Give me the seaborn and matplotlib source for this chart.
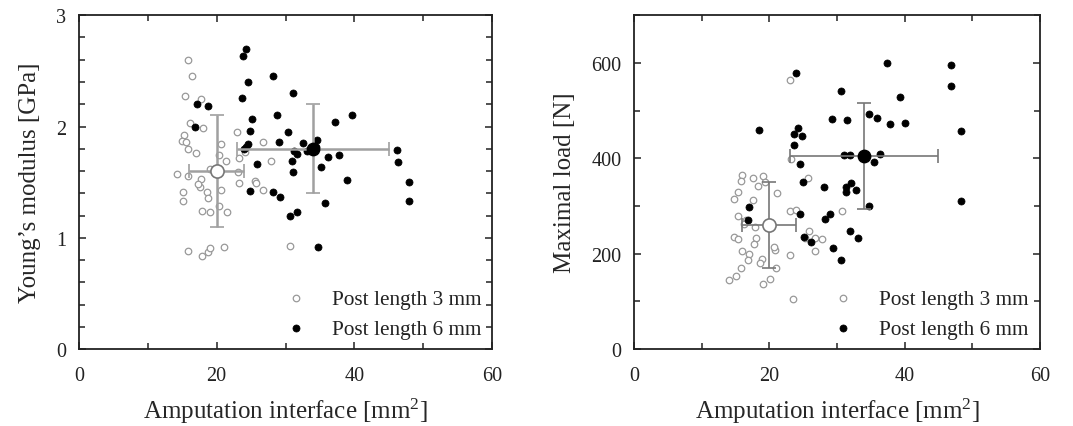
import numpy as np
import pandas as pd
import seaborn as sns
import matplotlib
matplotlib.use("Agg")
import matplotlib.pyplot as plt
from matplotlib.ticker import MultipleLocator

# Young's modulus - post length 3 mm
ym3_x = [15.9, 16.4, 15.4, 17.7, 16.1, 18.0, 15.2, 14.9, 15.6, 15.9, 17.0, 22.9, 20.7, 20.4,
         21.3, 23.3, 26.7, 27.9, 14.3, 15.9, 23.1, 17.7, 17.6, 23.2, 25.6, 25.7, 26.8, 20.7,
         18.6, 18.8, 15.1, 15.1, 20.3, 17.9, 19.1, 21.5, 15.9, 17.8, 18.8, 19.1, 21.0, 30.7,
         24.1, 17.3, 19.0]
ym3_y = [2.60, 2.45, 2.27, 2.25, 2.03, 1.99, 1.92, 1.87, 1.86, 1.80, 1.76, 1.95, 1.84, 1.74,
         1.69, 1.72, 1.86, 1.69, 1.57, 1.56, 1.59, 1.53, 1.46, 1.49, 1.51, 1.49, 1.43, 1.43,
         1.41, 1.36, 1.41, 1.33, 1.29, 1.24, 1.23, 1.23, 0.88, 0.84, 0.87, 0.91, 0.92, 0.93,
         1.77, 1.48, 1.62]

# Young's modulus - post length 6 mm
ym6_x = [24.3, 23.8, 24.5, 23.7, 28.2, 31.1, 17.1, 18.7, 16.8, 25.1, 24.8, 28.7, 30.4, 39.7,
         37.2, 34.6, 29.1, 32.5, 24.5, 24.2, 23.9, 31.2, 31.6, 33.1, 33.8, 34.4, 36.1, 37.7,
         46.2, 46.3, 30.9, 35.1, 25.9, 31.1, 48.0, 39.0, 24.9, 28.2, 29.2, 48.0, 35.8, 30.6,
         31.7, 34.7]
ym6_y = [2.70, 2.63, 2.40, 2.26, 2.45, 2.30, 2.20, 2.18, 2.00, 2.07, 1.96, 2.10, 1.95, 2.10,
         2.04, 1.88, 1.86, 1.85, 1.84, 1.82, 1.80, 1.78, 1.75, 1.78, 1.80, 1.82, 1.73, 1.74,
         1.79, 1.68, 1.69, 1.64, 1.66, 1.59, 1.50, 1.52, 1.42, 1.41, 1.37, 1.33, 1.31, 1.20,
         1.23, 0.92]

# Maximal load - post length 3 mm
ml3_x = [23.0, 16.0, 15.8, 17.6, 18.3, 19.0, 15.3, 14.8, 17.6, 21.2, 25.7, 15.3, 23.2, 23.0,
         24.0, 17.9, 14.8, 15.3, 18.0, 17.8, 16.0, 17.0, 16.8, 15.8, 15.1, 14.1, 18.9, 19.0,
         20.1, 21.0, 23.0, 20.9, 20.7, 23.5, 25.8, 25.3, 26.8, 26.8, 27.8, 30.8, 16.5, 19.3,
         18.6, 16.2]
ml3_y = [564, 366, 353, 359, 343, 364, 329, 315, 313, 327, 358, 280, 399, 290, 292, 257, 236,
         231, 232, 220, 205, 199, 187, 171, 154, 145, 189, 136, 147, 170, 197, 208, 215, 106,
         248, 234, 233, 205, 231, 289, 270, 350, 180, 262]

# Maximal load - post length 6 mm
ml6_x = [24.0, 37.4, 46.8, 46.8, 30.6, 39.3, 48.4, 48.4, 18.5, 24.3, 23.7, 24.8, 23.7, 24.5,
         29.3, 31.5, 34.8, 36.0, 37.9, 40.0, 31.1, 31.9, 36.3, 35.5, 25.0, 28.1, 31.4, 31.4,
         32.1, 32.8, 34.8, 17.0, 16.8, 24.5, 29.0, 28.3, 25.2, 26.2, 32.0, 33.1, 29.4, 30.6]
ml6_y = [579, 600, 596, 551, 541, 528, 458, 310, 459, 464, 451, 446, 427, 388, 483, 481, 493,
         484, 471, 474, 406, 406, 410, 392, 350, 339, 339, 330, 348, 334, 301, 297, 271, 283,
         283, 273, 236, 225, 248, 233, 213, 187]

# group means and errors: [3 mm, 6 mm]
ym_mean_x = [20.0, 34.0]
ym_mean_y = [1.60, 1.80]
ym_err_x = [4.0, 11.0]
ym_err_y = [0.5, 0.4]
ml_mean_x = [20.0, 34.0]
ml_mean_y = [260, 405]
ml_err_x = [4.0, 11.0]
ml_err_y = [90, 112]

labels = ["Post length 3 mm", "Post length 6 mm"]

sns.set_style("ticks")
plt.rcParams["font.family"] = ["Liberation Serif", "DejaVu Serif"]
plt.rcParams["mathtext.default"] = "regular"
plt.rcParams["text.color"] = "#222222"

fig = plt.figure(figsize=(10.73, 4.27), dpi=100)
ax1 = fig.add_axes([0.0736, 0.180, 0.385, 0.782])
ax2 = fig.add_axes([0.591, 0.180, 0.378, 0.782])


def draw(ax, x3, y3, x6, y6, mx, my, ex, ey, bar_col, bar_lw):
    d3 = pd.DataFrame({"x": x3, "y": y3})
    d6 = pd.DataFrame({"x": x6, "y": y6})
    sns.scatterplot(data=d3, x="x", y="y", ax=ax, s=22, marker="o",
                    facecolor="white", edgecolor="#999999", linewidth=0.9,
                    label=labels[0], zorder=3)
    sns.scatterplot(data=d6, x="x", y="y", ax=ax, s=26, marker="o",
                    color="black", edgecolor="black", linewidth=0.5,
                    label=labels[1], zorder=4)
    for i in range(2):
        ax.errorbar(mx[i], my[i], xerr=ex[i], yerr=ey[i], fmt="none",
                    ecolor=bar_col, elinewidth=bar_lw, capsize=5, capthick=1.2,
                    zorder=5)
    ax.scatter([mx[0]], [my[0]], s=90, facecolor="white", edgecolor="#777777",
               linewidth=1.2, zorder=6)
    ax.scatter([mx[1]], [my[1]], s=80, color="black", zorder=6)

    ax.set_xlim(0, 60)
    ax.xaxis.set_major_locator(MultipleLocator(20))
    ax.xaxis.set_minor_locator(MultipleLocator(10))
    ax.tick_params(which="both", direction="in", top=True, right=True,
                   labelsize=14.5, width=1.1, colors="#222222")
    ax.tick_params(which="major", length=5)
    ax.tick_params(which="minor", length=4, width=1.1)
    ax.tick_params(axis="x", which="major", pad=12)
    ax.tick_params(axis="y", which="major", pad=9)
    for sp in ax.spines.values():
        sp.set_linewidth(1.3)
        sp.set_color("#222222")
    ax.set_xlabel("Amputation interface [mm$^{2}$]", fontsize=18, labelpad=8)
    ax.legend(loc="lower right", frameon=False, fontsize=15.3,
              handletextpad=0.7, borderaxespad=0.3, borderpad=0.2,
              labelspacing=0.45)


draw(ax1, ym3_x, ym3_y, ym6_x, ym6_y, ym_mean_x, ym_mean_y, ym_err_x, ym_err_y,
     "#a0a0a0", 1.8)
ax1.set_ylim(0, 3)
ax1.yaxis.set_major_locator(MultipleLocator(1))
ax1.yaxis.set_minor_locator(MultipleLocator(0.2))
ax1.set_ylabel("Young\u2019s modulus [GPa]", fontsize=18, labelpad=11)

draw(ax2, ml3_x, ml3_y, ml6_x, ml6_y, ml_mean_x, ml_mean_y, ml_err_x, ml_err_y,
     "#777777", 1.2)
ax2.set_ylim(0, 700)
ax2.yaxis.set_major_locator(MultipleLocator(200))
ax2.yaxis.set_minor_locator(MultipleLocator(100))
ax2.set_ylabel("Maximal load [N]", fontsize=18, labelpad=11)

fig.savefig("out.png", dpi=100)
